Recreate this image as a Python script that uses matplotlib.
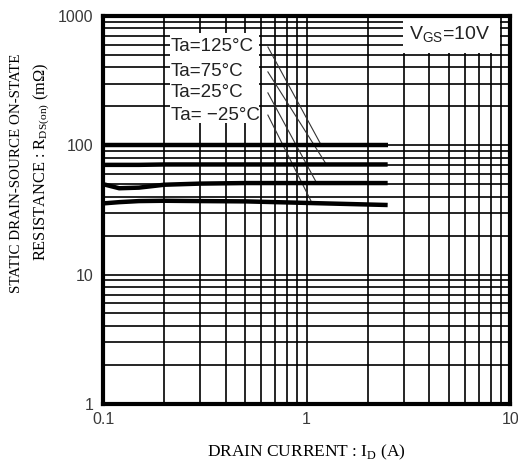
import matplotlib
matplotlib.use("Agg")
import matplotlib.pyplot as plt
from matplotlib.patches import Rectangle
from matplotlib.ticker import FixedLocator, LogLocator, NullFormatter

# drain current (A) and on-resistance (mOhm) per ambient temperature
drain_current = [0.1, 0.12, 0.15, 0.2, 0.3, 0.5, 1.0, 2.5]
r_125 = [100, 100, 100, 100, 100, 100, 100, 100]
r_75 = [70.5, 70.5, 70.5, 71, 71, 71, 71, 71]
r_25 = [50, 46.5, 47, 49.5, 50.5, 51, 51, 51]
r_m25 = [35.5, 36.3, 37, 37.2, 37, 36.8, 35.8, 34.5]

labels = ["Ta=125°C", "Ta=75°C", "Ta=25°C", "Ta= \u221225°C"]
label_y = [575, 369, 254, 171]
leader_start_x = 0.645
leader_end_x = [1.18, 1.25, 1.12, 1.06]
leader_end_y = [100, 71, 51, 36]

x_ticks = [0.1, 1, 10]
x_ticklabels = ["0.1", "1", "10"]
y_ticks = [1, 10, 100, 1000]
y_ticklabels = ["1", "10", "100", "1000"]

plt.rcParams["mathtext.fontset"] = "custom"
plt.rcParams["mathtext.rm"] = "Liberation Serif"

fig = plt.figure(figsize=(5.18, 4.68), dpi=100)
ax = fig.add_axes([0.199, 0.137, 0.786, 0.829])
ax.set_xscale("log")
ax.set_yscale("log")
ax.set_xlim(0.1, 10)
ax.set_ylim(1, 1000)

ax.xaxis.set_major_locator(FixedLocator(x_ticks))
ax.yaxis.set_major_locator(FixedLocator(y_ticks))
ax.xaxis.set_minor_locator(LogLocator(base=10, subs=range(2, 10)))
ax.yaxis.set_minor_locator(LogLocator(base=10, subs=range(2, 10)))
ax.xaxis.set_minor_formatter(NullFormatter())
ax.yaxis.set_minor_formatter(NullFormatter())
ax.set_xticklabels(x_ticklabels)
ax.set_yticklabels(y_ticklabels)
ax.tick_params(which="both", length=0)
ax.tick_params(axis="y", pad=7, labelsize=11.5, labelcolor="#3a3a3a")
ax.tick_params(axis="x", pad=6, labelsize=11.5, labelcolor="#3a3a3a")
for lab in ax.get_xticklabels() + ax.get_yticklabels():
    lab.set_fontfamily("Liberation Sans")

ax.set_axisbelow(True)
ax.grid(which="both", color="black", linewidth=1.2)
for sp in ax.spines.values():
    sp.set_linewidth(3)

for series in (r_125, r_75, r_25, r_m25):
    ax.plot(drain_current, series, color="black", linewidth=3.2, solid_capstyle="butt", zorder=3)

# white patches behind the labels
ax.add_patch(Rectangle((0.165, 0.724), 0.218, 0.232, transform=ax.transAxes,
                       facecolor="white", edgecolor="none", zorder=1))
ax.add_patch(Rectangle((0.737, 0.905), 0.238, 0.095, transform=ax.transAxes,
                       facecolor="white", edgecolor="none", zorder=1))

for text, ty, ex, ey in zip(labels, label_y, leader_end_x, leader_end_y):
    ax.text(0.215, ty, text, ha="left", va="center", fontsize=13.5,
            family="Liberation Sans", color="#222222", zorder=4)
    ax.plot([leader_start_x, ex], [ty, ey], color="#333333", linewidth=0.8, zorder=2.6)

ax.text(0.752, 0.952, "V$_{\\mathregular{GS}}$=10V", transform=ax.transAxes,
        ha="left", va="center", fontsize=14, family="Liberation Sans", color="#222222")

fig.text(0.591, 0.034, "DRAIN CURRENT : I$_{\\mathrm{D}}$ (A)", ha="center", va="center",
         fontsize=12.5, family="Liberation Serif")
fig.text(0.031, 0.63, "STATIC DRAIN-SOURCE ON-STATE", rotation=90, ha="center", va="center",
         fontsize=10.8, family="Liberation Serif")
fig.text(0.081, 0.655, "RESISTANCE : R$_{\\mathrm{DS(on)}}$ (m\u03a9)", rotation=90,
         ha="center", va="center", fontsize=11.8, family="Liberation Serif")

fig.savefig("out.png", dpi=100)
